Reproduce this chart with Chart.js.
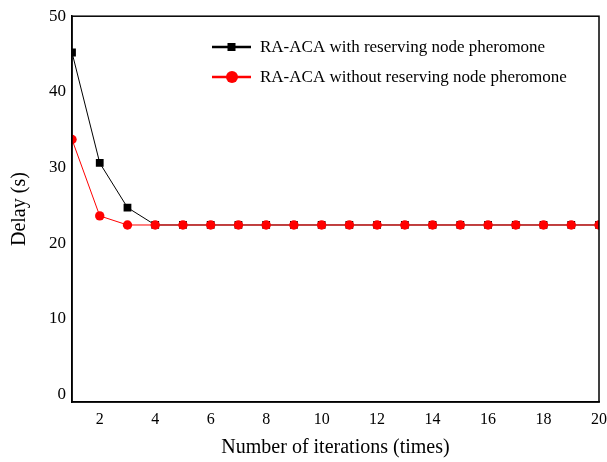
<!DOCTYPE html>
<html><head><meta charset="utf-8">
<script src="https://cdn.jsdelivr.net/npm/chart.js@4/dist/chart.umd.min.js"></script>
<style>html,body{margin:0;padding:0;background:#fff}#wrap{width:607px;height:462px}</style>
</head><body><div id="wrap"><canvas id="c" width="607" height="462"></canvas></div>
<script>
const iterations = [1,2,3,4,5,6,7,8,9,10,11,12,13,14,15,16,17,18,19,20];
const withReserving = [45.2,30.6,24.7,22.4,22.4,22.4,22.4,22.4,22.4,22.4,22.4,22.4,22.4,22.4,22.4,22.4,22.4,22.4,22.4,22.4];
const withoutReserving = [33.7,23.6,22.4,22.4,22.4,22.4,22.4,22.4,22.4,22.4,22.4,22.4,22.4,22.4,22.4,22.4,22.4,22.4,22.4,22.4];
const seriesNames = ['RA-ACA with reserving node pheromone','RA-ACA without reserving node pheromone'];
const xTicks = [2,4,6,8,10,12,14,16,18,20];
const yTicks = [0,10,20,30,40,50];

const FONT = "'Liberation Serif','Times New Roman',serif";

const framePlugin = {
  id:'frame',
  afterDraw(chart){
    const {ctx, chartArea:a} = chart;
    ctx.save();
    ctx.strokeStyle='#000'; ctx.lineWidth=1.5;
    ctx.strokeRect(a.left, a.top, a.right-a.left, a.bottom-a.top);
    const items = [
      {label:seriesNames[0], color:'#000', style:'rect'},
      {label:seriesNames[1], color:'#ff0000', style:'circle'}
    ];
    ctx.font = '17px ' + FONT;
    ctx.textBaseline='middle';
    items.forEach((it,i)=>{
      const y = 47 + i*30;
      ctx.strokeStyle = it.color; ctx.fillStyle = it.color; ctx.lineWidth = 2.5;
      ctx.beginPath(); ctx.moveTo(212,y); ctx.lineTo(251,y); ctx.stroke();
      if(it.style==='rect'){ ctx.fillRect(227.5,y-4,8,8); }
      else { ctx.beginPath(); ctx.arc(232,y,6,0,Math.PI*2); ctx.fill(); }
      ctx.fillStyle='#000';
      ctx.fillText(it.label, 260, y+1);
    });
    ctx.restore();
  }
};

new Chart(document.getElementById('c'), {
  type:'line',
  data:{
    labels: iterations,
    datasets:[
      {label:seriesNames[0], data: iterations.map((x,i)=>({x, y:withReserving[i]})),
       borderColor:'#000', backgroundColor:'#000', borderWidth:1, pointStyle:'rect',
       pointRadius:5.5, pointBorderWidth:0, order:2, tension:0},
      {label:seriesNames[1], data: iterations.map((x,i)=>({x, y:withoutReserving[i]})),
       borderColor:'#ff0000', backgroundColor:'#ff0000', borderWidth:1, pointStyle:'circle',
       pointRadius:4.7, pointBorderWidth:0, order:1, tension:0}
    ]
  },
  options:{
    responsive:false, animation:false,
    layout:{padding:{left:0, top:15, right:8, bottom:0}},
    plugins:{legend:{display:false}, tooltip:{enabled:false}},
    scales:{
      x:{type:'linear', min:1, max:20,
        afterBuildTicks(s){ s.ticks = xTicks.map(v=>({value:v})); },
        afterFit(s){ s.height = 60; s.paddingRight = 0; },
        grid:{display:false, drawTicks:false}, border:{display:true,color:'#000',width:1.5},
        ticks:{color:'#000', font:{family:FONT,size:16}, padding:8, maxRotation:0, autoSkip:false},
        title:{display:true, text:'Number of iterations (times)', color:'#000', font:{family:FONT,size:20}, padding:{top:4,bottom:2}}
      },
      y:{type:'linear', min:-1, max:50,
        afterBuildTicks(s){ s.ticks = yTicks.map(v=>({value:v})); },
        afterFit(s){ s.width = 72; },
        grid:{display:false, drawTicks:false}, border:{display:true,color:'#000',width:1.5},
        ticks:{color:'#000', font:{family:FONT,size:17}, padding:6},
        title:{display:true, text:'Delay (s)', color:'#000', font:{family:FONT,size:20}, padding:{top:8,bottom:4}}
      }
    }
  },
  plugins:[framePlugin]
});
</script></body></html>
